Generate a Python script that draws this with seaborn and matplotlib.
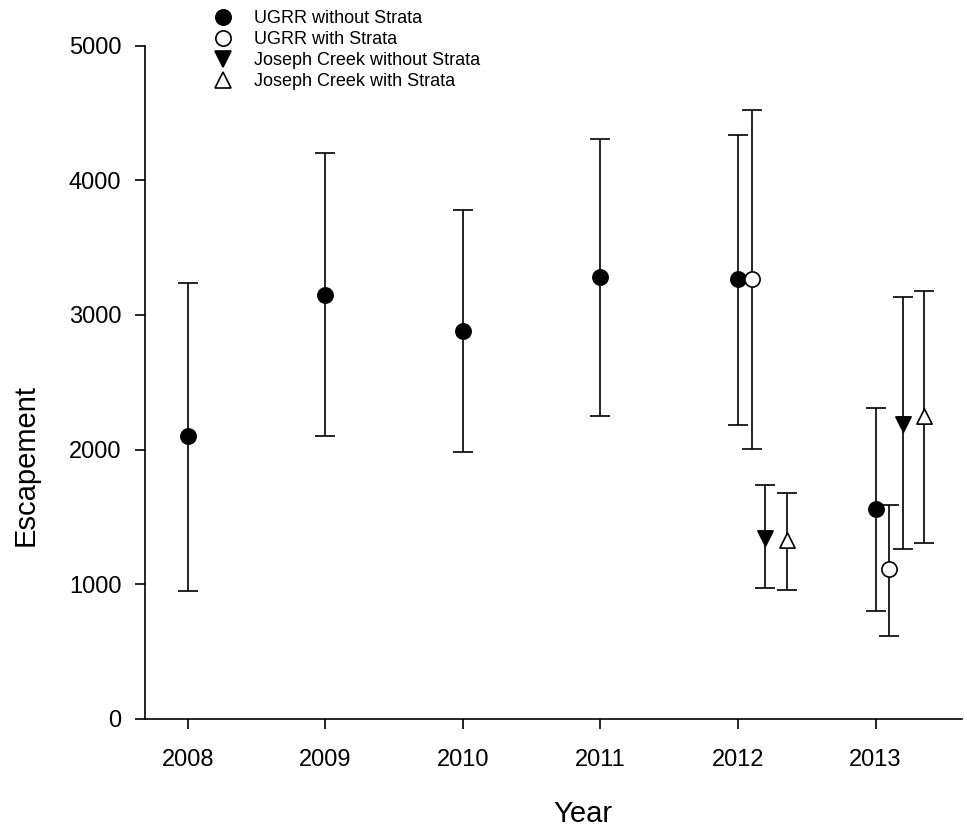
import pandas as pd
import matplotlib
matplotlib.use("Agg")
import matplotlib.pyplot as plt
import seaborn as sns
from matplotlib.lines import Line2D

# DONNEES

series = ["UGRR without Strata", "UGRR with Strata",
          "Joseph Creek without Strata", "Joseph Creek with Strata"]

ugrr_years = [2008, 2009, 2010, 2011, 2012, 2013]
ugrr_est = [2100, 3150, 2880, 3280, 3270, 1560]
ugrr_low = [950, 2100, 1980, 2250, 2185, 800]
ugrr_high = [3240, 4200, 3780, 4310, 4340, 2310]

ugrr_s_years = [2012, 2013]
ugrr_s_est = [3270, 1110]
ugrr_s_low = [2005, 615]
ugrr_s_high = [4520, 1585]

jc_years = [2012, 2013]
jc_est = [1345, 2190]
jc_low = [975, 1265]
jc_high = [1735, 3130]

jc_s_years = [2012, 2013]
jc_s_est = [1330, 2250]
jc_s_low = [955, 1308]
jc_s_high = [1675, 3175]

# decalage horizontal de chaque serie
offsets = [0.0, 0.10, 0.20, 0.355]
markers = ["o", "o", "v", "^"]
faces = ["black", "white", "black", "white"]

frames = []
for name, yrs, est, lo, hi in zip(
        series,
        [ugrr_years, ugrr_s_years, jc_years, jc_s_years],
        [ugrr_est, ugrr_s_est, jc_est, jc_s_est],
        [ugrr_low, ugrr_s_low, jc_low, jc_s_low],
        [ugrr_high, ugrr_s_high, jc_high, jc_s_high]):
    frames.append(pd.DataFrame({"serie": name, "Year": yrs, "Escapement": est,
                                "low": lo, "high": hi}))
df = pd.concat(frames, ignore_index=True)

# FIGURE

sns.set_theme(style="ticks")
plt.rcParams["font.family"] = ["Liberation Sans", "DejaVu Sans"]

fig = plt.figure(figsize=(9.67, 8.32), dpi=100)
ax = fig.add_axes([0.150, 0.136, 0.845, 0.809])

for name, off, m, fc in zip(series, offsets, markers, faces):
    d = df[df["serie"] == name]
    x = d["Year"] + off
    ax.errorbar(x, d["Escapement"],
                yerr=[d["Escapement"] - d["low"], d["high"] - d["Escapement"]],
                fmt="none", ecolor="black", elinewidth=1.2, capsize=7, capthick=1.2,
                zorder=1)
    sns.scatterplot(x=x, y=d["Escapement"], marker=m, s=120, color=fc,
                    edgecolor="black", linewidth=1.2, ax=ax, zorder=3, legend=False)

ax.set_xlim(2007.69, 2013.63)
ax.set_ylim(0, 5000)
ax.set_xticks(ugrr_years)
ax.set_yticks([0, 1000, 2000, 3000, 4000, 5000])
ax.tick_params(axis="both", labelsize=17, length=7, width=1.2, color="black",
               labelcolor="black", direction="out")
ax.tick_params(axis="x", pad=15)
ax.tick_params(axis="y", pad=10)
sns.despine(ax=ax)
for s in ["left", "bottom"]:
    ax.spines[s].set_color("black")
    ax.spines[s].set_linewidth(1.2)

ax.set_xlabel("Year", fontsize=21, color="black", va="center")
ax.set_ylabel("Escapement", fontsize=21, color="black", va="center")
ax.xaxis.set_label_coords(0.536, -0.141)
ax.yaxis.set_label_coords(-0.146, 0.377)

handles = [Line2D([], [], linestyle="none", marker=m, markersize=11,
                  markerfacecolor=fc, markeredgecolor="black", markeredgewidth=1.2)
           for m, fc in zip(markers, faces)]
fig.legend(handles, series, loc="upper left", bbox_to_anchor=(0.203, 1.007),
           frameon=False, fontsize=13, handletextpad=1.1, labelspacing=0.22,
           handlelength=1.2, labelcolor="black")

plt.savefig("out.png", dpi=100)
plt.close()
